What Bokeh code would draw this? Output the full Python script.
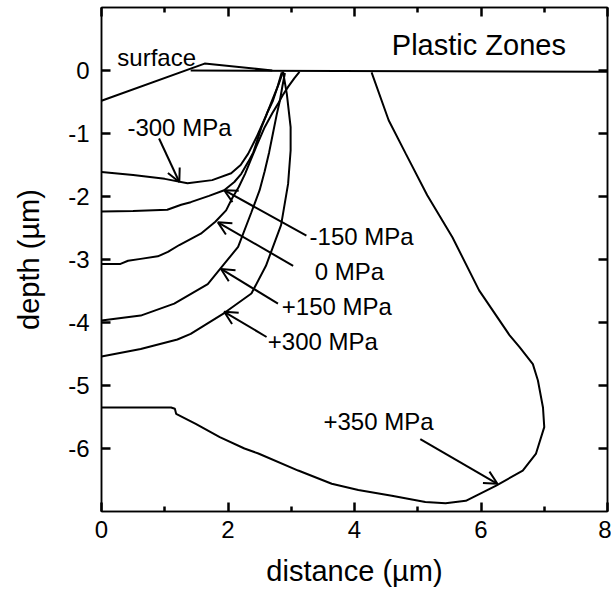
from bokeh.plotting import figure
from bokeh.models import (LinearAxis, FixedTicker, Range1d, Arrow, OpenHead,
                          ColumnDataSource)
from bokeh.core.properties import value
from bokeh.embed import file_html
from bokeh.resources import INLINE

FONT = "Liberation Sans"

# ---- contour data (distance in um, depth in um) ----
surface_x = [0.0, 1.63, 2.70]
surface_y = [-0.48, 0.11, 0.0]
level_x = [1.41, 8.0]
level_y = [0.0, -0.02]

m300_x = [0.0, 0.5, 1.0, 1.36, 1.75, 2.05, 2.2, 2.32, 2.45, 2.6, 2.72, 2.8, 2.87]
m300_y = [-1.61, -1.66, -1.72, -1.79, -1.74, -1.63, -1.5, -1.32, -1.06, -0.72, -0.42, -0.22, -0.02]

m150_x = [0.0, 0.5, 1.04, 1.26, 1.41, 1.7, 1.94, 2.1, 2.21, 2.32, 2.4, 2.53, 2.63, 2.71, 2.78, 2.85]
m150_y = [-2.24, -2.23, -2.21, -2.13, -2.09, -1.99, -1.9, -1.77, -1.64, -1.45, -1.3, -0.9, -0.65, -0.48, -0.27, -0.03]

z0_x = [0.0, 0.3, 0.42, 0.62, 0.89, 1.05, 1.23, 1.57, 1.8, 1.97, 2.07, 2.17, 2.27, 2.36,
        2.45, 2.58, 2.7, 2.79, 2.86, 2.95, 3.05, 3.13]
z0_y = [-3.07, -3.07, -3.02, -2.99, -2.95, -2.88, -2.77, -2.59, -2.40, -2.22, -2.02, -1.85, -1.64, -1.42,
        -1.2, -0.9, -0.68, -0.53, -0.4, -0.26, -0.12, -0.02]

p150_x = [0.0, 0.62, 1.15, 1.68, 1.94, 2.16, 2.37, 2.5, 2.58, 2.65, 2.71, 2.77, 2.82, 2.86, 2.9]
p150_y = [-3.97, -3.89, -3.70, -3.39, -3.07, -2.8, -2.25, -1.9, -1.6, -1.3, -1.0, -0.7, -0.48, -0.25, -0.04]

p300_x = [0.0, 0.62, 1.2, 1.41, 1.94, 2.37, 2.6, 2.84, 2.95, 2.99, 2.99, 2.93, 2.87]
p300_y = [-4.54, -4.42, -4.27, -4.18, -3.85, -3.54, -3.1, -2.45, -1.8, -1.27, -0.9, -0.37, -0.02]

p350_x = [0.0, 1.1, 1.16, 1.18, 1.49, 1.87, 2.26, 2.48, 3.11, 3.64, 4.06, 4.59, 5.12, 5.44,
          5.76, 6.24, 6.66, 6.87, 7.0, 6.98, 6.9, 6.82, 6.61, 6.45, 5.97, 5.55, 5.15, 4.81,
          4.54, 4.27]
p350_y = [-5.35, -5.35, -5.37, -5.45, -5.61, -5.82, -6.0, -6.08, -6.35, -6.56, -6.66, -6.75, -6.85, -6.87,
          -6.83, -6.59, -6.35, -6.08, -5.66, -5.35, -4.92, -4.66, -4.39, -4.2, -3.49, -2.65, -1.98, -1.32,
          -0.79, -0.03]

curves = [(surface_x, surface_y), (level_x, level_y), (m300_x, m300_y), (m150_x, m150_y),
          (z0_x, z0_y), (p150_x, p150_y), (p300_x, p300_y), (p350_x, p350_y)]

# ---- labels ----
label_text = ["surface", "-300 MPa", "-150 MPa", "0 MPa", "+150 MPa", "+300 MPa", "+350 MPa"]
label_x = [0.25, 0.41, 3.29, 3.37, 2.85, 2.63, 3.51]
label_y = [0.21, -0.9, -2.63, -3.19, -3.75, -4.30, -5.57]

# ---- arrows: tail -> head ----
arrow_x0 = [0.91, 3.24, 3.03, 2.79, 2.61, 5.04]
arrow_y0 = [-1.08, -2.62, -3.10, -3.70, -4.23, -5.85]
arrow_x1 = [1.23, 1.94, 1.84, 1.89, 1.94, 6.26]
arrow_y1 = [-1.77, -1.9, -2.41, -3.15, -3.83, -6.56]

title_text = "Plastic Zones"
title_x, title_y = 4.59, 0.40

x_major = [0, 2, 4, 6, 8]
x_minor = [1, 3, 5, 7]
y_major = [0, -1, -2, -3, -4, -5, -6]

p = figure(width=611, height=592, output_backend="svg", toolbar_location=None,
           x_range=Range1d(0, 8), y_range=Range1d(-7, 1),
           x_axis_location=None, y_axis_location=None,
           min_border_left=101, min_border_right=4, min_border_top=7, min_border_bottom=81)
p.grid.visible = False
p.background_fill_color = "white"
p.border_fill_color = "white"
p.outline_line_color = "black"
p.outline_line_width = 1.5


def style_axis(ax, ticks, minor, labels=True):
    ax.ticker = FixedTicker(ticks=ticks, minor_ticks=minor)
    ax.axis_line_color = "black"
    ax.axis_line_width = 1.5
    ax.major_tick_in = 9
    ax.major_tick_out = 0
    ax.minor_tick_in = 5
    ax.minor_tick_out = 0
    ax.major_tick_line_width = 2.5
    ax.minor_tick_line_width = 2.5
    ax.major_tick_line_color = "black"
    ax.minor_tick_line_color = "black"
    if labels:
        # plain hyphen for negative numbers
        ax.major_label_overrides = {float(t): str(t) for t in ticks}
        ax.major_label_text_font = FONT
        ax.major_label_text_font_size = "24px"
        ax.major_label_text_color = "black"
        ax.axis_label_text_font = FONT
        ax.axis_label_text_font_size = "29px"
        ax.axis_label_text_font_style = "normal"
        ax.axis_label_text_color = "black"
    else:
        ax.major_label_text_font_size = "1px"
        ax.major_label_text_color = None
        ax.major_label_standoff = 0


xb = LinearAxis(axis_label="distance (µm)")
style_axis(xb, x_major, x_minor)
xb.major_label_standoff = 9
xb.axis_label_standoff = 14
p.add_layout(xb, "below")

yl = LinearAxis(axis_label="depth (µm)")
style_axis(yl, y_major, [])
yl.major_label_standoff = 12
yl.axis_label_standoff = 20
p.add_layout(yl, "left")

xt = LinearAxis()
style_axis(xt, x_major, x_minor, labels=False)
p.add_layout(xt, "above")

yr = LinearAxis()
style_axis(yr, y_major, [], labels=False)
p.add_layout(yr, "right")

for cx, cy in curves:
    p.line(cx, cy, line_color="black", line_width=2)

for x0, y0, x1, y1 in zip(arrow_x0, arrow_y0, arrow_x1, arrow_y1):
    p.add_layout(Arrow(end=OpenHead(size=13, line_width=2, line_color="black"),
                       x_start=x0, y_start=y0, x_end=x1, y_end=y1,
                       line_width=2, line_color="black"))

src = ColumnDataSource(dict(x=label_x, y=label_y, t=label_text))
p.text(x="x", y="y", text="t", source=src, text_font=value(FONT), text_font_size="24px",
       text_baseline="middle", text_align="left", text_color="black")

p.text(x=[title_x], y=[title_y], text=[title_text], text_font=value(FONT),
       text_font_size="29px", text_baseline="middle", text_align="left", text_color="black")

open("out.html", "w").write(file_html(p, INLINE))
